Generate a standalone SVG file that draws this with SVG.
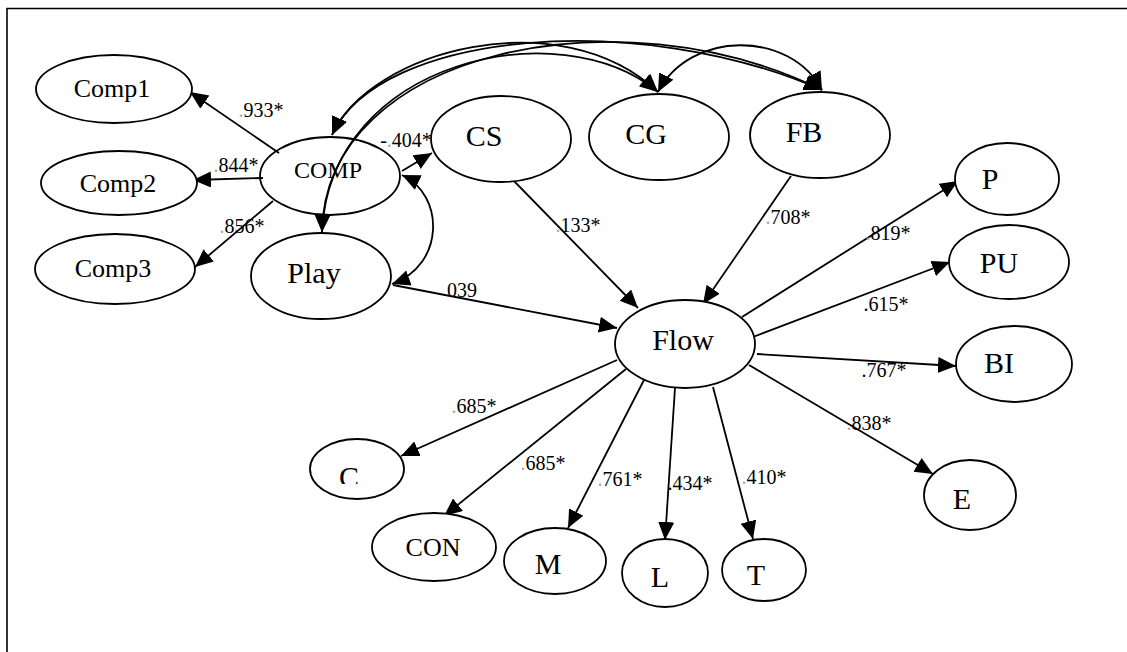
<svg xmlns="http://www.w3.org/2000/svg" width="1127" height="652" viewBox="0 0 1127 652">
  <style>
    .node ellipse { fill: #fff; stroke: #000; stroke-width: 1.8; }
    .node text { font-family: "Liberation Serif", "Times New Roman", serif; fill: #000; text-anchor: middle; }
    .big { font-size: 30px; }
    .mid { font-size: 26px; }
    .sm { font-size: 24px; }
    .edge { fill: none; stroke: #000; stroke-width: 1.8; }
    .one { marker-end: url(#head); }
    .two { marker-start: url(#head); marker-end: url(#head); }
    .lbl { font-family: "Liberation Serif", "Times New Roman", serif; font-size: 20px; fill: #000; text-anchor: middle; }
    .dot { fill: #aaa; }
  </style>
  <defs>
    <marker id="head" markerUnits="userSpaceOnUse" markerWidth="19" markerHeight="17" refX="18" refY="8" orient="auto-start-reverse">
      <path d="M0,0 L18,8 L0,16 Z" fill="#000"/>
    </marker>
    <!-- the C caption is cut off along its lower edge -->
    <clipPath id="cutC"><rect x="320" y="450" width="60" height="34"/></clipPath>
  </defs>

  <rect width="1127" height="652" fill="#fff"/>
  <!-- frame -->
  <path d="M7,652 V8.5 H1127" fill="none" stroke="#000" stroke-width="1.6"/>

  <!-- connectors -->
  <g id="connectors">
    <!-- COMP indicators -->
    <line class="edge one" x1="279" y1="153" x2="190" y2="92"/>
    <line class="edge one" x1="263" y1="178" x2="193" y2="180"/>
    <line class="edge one" x1="273" y1="201" x2="195" y2="267"/>
    <!-- COMP -> CS -->
    <line class="edge one" x1="402" y1="171" x2="432" y2="153"/>
    <!-- COMP <-> Play -->
    <path class="edge two" d="M402,175 C445,195 445,265 392,284"/>
    <!-- covariances over the top -->
    <path class="edge two" d="M332,135 C370,50 560,0 658,92"/>
    <path class="edge two" d="M332,135 C380,30 640,10 822,90"/>
    <path class="edge two" d="M322,232 C330,60 560,10 658,92"/>
    <path class="edge two" d="M322,232 C325,50 620,-10 822,90"/>
    <path class="edge two" d="M658,92 C690,30 790,30 822,90"/>
    <!-- paths into Flow -->
    <line class="edge one" x1="393" y1="285" x2="617" y2="328"/>
    <line class="edge one" x1="513" y1="180" x2="638" y2="308"/>
    <line class="edge one" x1="791" y1="176" x2="703" y2="304"/>
    <!-- Flow indicators -->
    <line class="edge one" x1="742" y1="317" x2="958" y2="181"/>
    <line class="edge one" x1="753" y1="337" x2="950" y2="262"/>
    <line class="edge one" x1="757" y1="354" x2="956" y2="366"/>
    <line class="edge one" x1="749" y1="365" x2="933" y2="474"/>
    <line class="edge one" x1="617" y1="360" x2="401" y2="456"/>
    <line class="edge one" x1="626" y1="369" x2="444" y2="516"/>
    <line class="edge one" x1="644" y1="380" x2="568" y2="528"/>
    <line class="edge one" x1="675" y1="388" x2="665" y2="540"/>
    <line class="edge one" x1="713" y1="387" x2="753" y2="539"/>

    <!-- coefficients -->
    <text class="lbl" x="261" y="117"><tspan class="dot">.</tspan>933*</text>
    <text class="lbl" x="236" y="172"><tspan class="dot">.</tspan>844*</text>
    <text class="lbl" x="242" y="233"><tspan class="dot">.</tspan>856*</text>
    <text class="lbl" x="406" y="147">-<tspan class="dot">.</tspan>404*</text>
    <text class="lbl" x="462" y="297">039</text>
    <text class="lbl" x="578" y="232"><tspan class="dot">.</tspan>133*</text>
    <text class="lbl" x="788" y="224"><tspan class="dot">.</tspan>708*</text>
    <text class="lbl" x="888" y="240"><tspan class="dot">.</tspan>819*</text>
    <text class="lbl" x="886" y="311">.615*</text>
    <text class="lbl" x="884" y="377">.767*</text>
    <text class="lbl" x="869" y="430"><tspan class="dot">.</tspan>838*</text>
    <text class="lbl" x="474" y="413"><tspan class="dot">.</tspan>685*</text>
    <text class="lbl" x="543" y="470"><tspan class="dot">.</tspan>685*</text>
    <text class="lbl" x="620" y="486"><tspan class="dot">.</tspan>761*</text>
    <text class="lbl" x="690" y="490">.434*</text>
    <text class="lbl" x="764" y="484"><tspan class="dot">.</tspan>410*</text>
  </g>

  <!-- nodes -->
  <g id="Comp1" class="node"><ellipse cx="114" cy="89" rx="78" ry="34"/><text class="mid" x="112" y="97">Comp1</text></g>
  <g id="Comp2" class="node"><ellipse cx="119" cy="183" rx="78" ry="32"/><text class="mid" x="118" y="192">Comp2</text></g>
  <g id="Comp3" class="node"><ellipse cx="115" cy="269" rx="80" ry="35"/><text class="mid" x="113" y="277">Comp3</text></g>
  <g id="COMP" class="node"><ellipse cx="330" cy="176" rx="70" ry="39" style="fill:none"/><text class="sm" x="328" y="178">COMP</text></g>
  <g id="Play" class="node"><ellipse cx="321" cy="276" rx="70" ry="43"/><text class="big" x="314" y="283">Play</text></g>
  <g id="CS" class="node"><ellipse cx="501" cy="139" rx="70" ry="43"/><text class="big" x="484" y="146">CS</text></g>
  <g id="CG" class="node"><ellipse cx="659" cy="137" rx="70" ry="43"/><text class="big" x="646" y="144">CG</text></g>
  <g id="FB" class="node"><ellipse cx="820" cy="135" rx="70" ry="43"/><text class="big" x="804" y="142">FB</text></g>
  <g id="Flow" class="node"><ellipse cx="685" cy="344" rx="70" ry="44"/><text class="big" x="683" y="350">Flow</text></g>
  <g id="P" class="node"><ellipse cx="1007" cy="179" rx="52" ry="36"/><text class="big" x="990" y="189">P</text></g>
  <g id="PU" class="node"><ellipse cx="1009" cy="262" rx="60" ry="37"/><text class="big" x="999" y="273">PU</text></g>
  <g id="BI" class="node"><ellipse cx="1014" cy="364" rx="58" ry="38"/><text class="big" x="999" y="373">BI</text></g>
  <g id="E" class="node"><ellipse cx="970" cy="495" rx="46" ry="35"/><text class="big" x="962" y="509">E</text></g>
  <g id="C" class="node"><ellipse cx="357" cy="469" rx="47" ry="30"/><text class="big" x="349" y="487" clip-path="url(#cutC)">C</text></g>
  <g id="CON" class="node"><ellipse cx="434" cy="547" rx="62" ry="34"/><text class="mid" x="433" y="556">CON</text></g>
  <g id="M" class="node"><ellipse cx="555" cy="561" rx="51" ry="33"/><text class="big" x="548" y="574">M</text></g>
  <g id="L" class="node"><ellipse cx="665" cy="573" rx="43" ry="34"/><text class="big" x="660" y="587">L</text></g>
  <g id="T" class="node"><ellipse cx="764" cy="570" rx="42" ry="31"/><text class="big" x="756" y="585">T</text></g>
</svg>
